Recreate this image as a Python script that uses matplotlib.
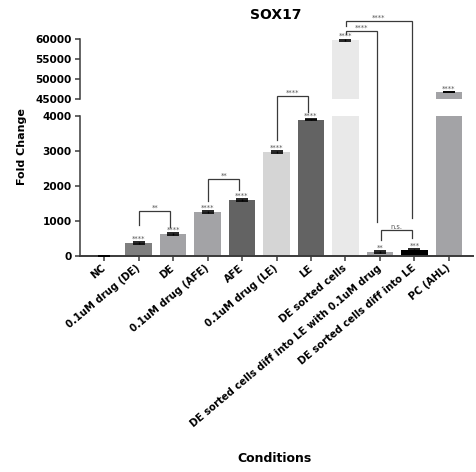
import matplotlib
matplotlib.use("Agg")
import matplotlib.pyplot as plt
from matplotlib.lines import Line2D

# ---- data -------------------------------------------------------------
conditions = [
    "NC",
    "0.1uM drug (DE)",
    "DE",
    "0.1uM drug (AFE)",
    "AFE",
    "0.1uM drug (LE)",
    "LE",
    "DE sorted cells",
    "DE sorted cells diff into LE with 0.1uM drug",
    "DE sorted cells diff into LE",
    "PC (AHL)",
]
fold_change = [1, 370, 620, 1245, 1590, 2960, 3890, 59700, 105, 160, 46800]
sem = [0, 22, 25, 22, 20, 25, 25, 250, 30, 25, 0]
bar_stars = ["", "****", "****", "****", "****", "****", "****", "****", "**", "***", "****"]

lower_ticks = [0, 1000, 2000, 3000, 4000]
upper_ticks = [45000, 50000, 55000, 60000]

# comparisons: (left bar, right bar, label)
comparisons = [
    (1, 2, "**"),
    (3, 4, "**"),
    (5, 6, "****"),
    (7, 8, "****"),
    (7, 9, "****"),
    (8, 9, "n.s."),
]

# ---- styling ----------------------------------------------------------
bar_colors = ["#a3a3a6", "#7f7f7f", "#a3a3a6", "#a3a3a6", "#636363", "#d5d5d5",
              "#636363", "#e9e9e9", "#a3a3a6", "#000000", "#a3a3a6"]
spine_color = "#3a3a3a"
FONT = "DejaVu Sans"

W, H = 477, 472
fig = plt.figure(figsize=(W / 100, H / 100), dpi=100)

x_left, x_right = 80, 473
bot_y0, bot_y1 = 255.7, 115.7   # pixel rows of 0 and 4000
top_y0, top_y1 = 99.0, 39.0     # pixel rows of 45000 and 60000

ax_bot = fig.add_axes([x_left / W, 1 - bot_y0 / H, (x_right - x_left) / W, (bot_y0 - bot_y1) / H])
ax_top = fig.add_axes([x_left / W, 1 - top_y0 / H, (x_right - x_left) / W, (top_y0 - top_y1) / H])

xs = list(range(len(conditions)))
for ax in (ax_bot, ax_top):
    ax.bar(xs, fold_change, width=0.77, color=bar_colors, edgecolor="none", zorder=2)
    ax.errorbar(xs, fold_change, yerr=sem, fmt="none", ecolor="black",
                elinewidth=1.0, capsize=4.2, capthick=1.2, zorder=3)
    ax.set_xlim(-0.7, len(conditions) - 0.3)
    for s in ("top", "right"):
        ax.spines[s].set_visible(False)
    ax.spines["left"].set_color(spine_color)
    ax.spines["left"].set_linewidth(1.1)
    ax.tick_params(axis="y", direction="out", length=3.5, width=1.1, color=spine_color,
                   pad=2.5)

ax_bot.set_ylim(0, 4000)
ax_bot.set_yticks(lower_ticks)
ax_bot.set_yticklabels([str(t) for t in lower_ticks], fontweight="bold", fontsize=7.6, family=FONT)
ax_bot.spines["bottom"].set_color(spine_color)
ax_bot.spines["bottom"].set_linewidth(1.4)
ax_bot.set_xticks(xs)
ax_bot.set_xticklabels(conditions, rotation=40, ha="right", va="center",
                       rotation_mode="anchor", fontsize=7.2, fontweight="bold", family=FONT)
ax_bot.tick_params(axis="x", direction="out", length=3.5, width=1.1, color=spine_color, pad=4.5)

ax_top.set_ylim(45000, 60000)
ax_top.set_yticks(upper_ticks)
ax_top.set_yticklabels([str(t) for t in upper_ticks], fontweight="bold", fontsize=7.6, family=FONT)
ax_top.spines["bottom"].set_visible(False)
ax_top.set_xticks([])

# significance stars above each bar
for x, v, e, s in zip(xs, fold_change, sem, bar_stars):
    if not s:
        continue
    ax = ax_top if v > 4000 else ax_bot
    ax.annotate(s, (x, v + e), xytext=(0, 0.3), textcoords="offset points",
                ha="center", va="bottom", fontsize=4.8, color="#555555",
                family=FONT, annotation_clip=False, zorder=4)

# comparison brackets: top height, left-leg end, right-leg end (each in the axis where it lies)
bracket_geom = [
    ((ax_bot, 1280), (ax_bot, 870), (ax_bot, 830)),
    ((ax_bot, 2180), (ax_bot, 1570), (ax_bot, 1870)),
    ((ax_bot, 4550), (ax_bot, 3300), (ax_bot, 4100)),
    ((ax_top, 62000), (ax_top, 61200), (ax_bot, 970)),
    ((ax_top, 64500), (ax_top, 63250), (ax_bot, 1065)),
    ((ax_bot, 730), (ax_bot, 450), (ax_bot, 500)),
]


def to_fig(ax, x, y):
    px = ax.transData.transform((x, y))
    return fig.transFigure.inverted().transform(px)


for (i, j, label), (top, lft, rgt) in zip(comparisons, bracket_geom):
    xl, xr = i + 0.02, j - 0.08
    p_tl = to_fig(top[0], xl, top[1])
    p_tr = to_fig(top[0], xr, top[1])
    p_bl = to_fig(lft[0], xl, lft[1])
    p_br = to_fig(rgt[0], xr, rgt[1])
    xs_line = [p_bl[0], p_tl[0], p_tr[0], p_br[0]]
    ys_line = [p_bl[1], p_tl[1], p_tr[1], p_br[1]]
    fig.add_artist(Line2D(xs_line, ys_line, transform=fig.transFigure,
                          color=spine_color, linewidth=0.9, solid_joinstyle="miter"))
    fig.text((p_tl[0] + p_tr[0]) / 2, p_tl[1] + 0.3 / H, label, ha="center", va="bottom",
             fontsize=4.8, color="#555555", family=FONT)

# titles
fig.text(276 / W, 1 - 15 / H, "SOX17", ha="center", va="center",
         fontsize=10, fontweight="bold", family=FONT)
fig.text(22 / W, 1 - 147 / H, "Fold Change", ha="center", va="center", rotation=90,
         fontsize=8, fontweight="bold", family=FONT)
fig.text(275 / W, 1 - 459 / H, "Conditions", ha="center", va="center",
         fontsize=9, fontweight="bold", family=FONT)

fig.savefig("out.png", dpi=100)
